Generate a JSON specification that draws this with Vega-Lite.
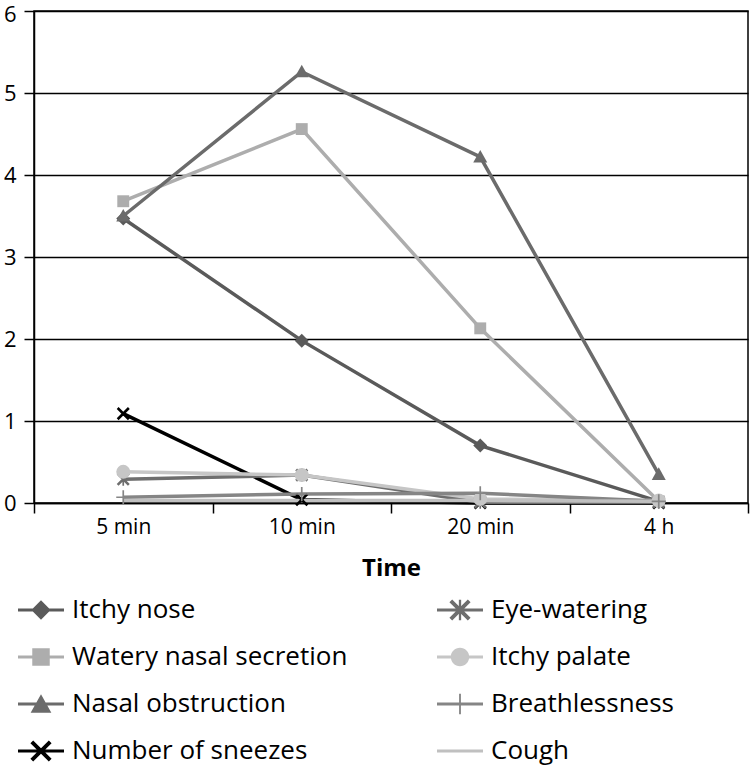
{
  "$schema": "https://vega.github.io/schema/vega-lite/v6.json",
  "width": 714,
  "height": 492,
  "autosize": "none",
  "padding": {"left": 34, "top": 11, "right": 2, "bottom": 267},
  "background": "white",
  "config": {
    "font": "Open Sans",
    "view": {"stroke": "black", "strokeWidth": 1.5},
    "axis": {"labelFont": "Open Sans", "titleFont": "Open Sans", "labelColor": "black", "titleColor": "black", "domainColor": "black", "tickColor": "black", "gridColor": "black"}
  },
  "data": {
    "values": [
      {"symptom": "Itchy nose", "time": "5 min", "value": 3.47},
      {"symptom": "Itchy nose", "time": "10 min", "value": 1.98},
      {"symptom": "Itchy nose", "time": "20 min", "value": 0.7},
      {"symptom": "Itchy nose", "time": "4 h", "value": 0.02},
      {"symptom": "Watery nasal secretion", "time": "5 min", "value": 3.68},
      {"symptom": "Watery nasal secretion", "time": "10 min", "value": 4.56},
      {"symptom": "Watery nasal secretion", "time": "20 min", "value": 2.13},
      {"symptom": "Watery nasal secretion", "time": "4 h", "value": 0.02},
      {"symptom": "Nasal obstruction", "time": "5 min", "value": 3.5},
      {"symptom": "Nasal obstruction", "time": "10 min", "value": 5.26},
      {"symptom": "Nasal obstruction", "time": "20 min", "value": 4.22},
      {"symptom": "Nasal obstruction", "time": "4 h", "value": 0.35},
      {"symptom": "Number of sneezes", "time": "5 min", "value": 1.09},
      {"symptom": "Number of sneezes", "time": "10 min", "value": 0.04},
      {"symptom": "Number of sneezes", "time": "20 min", "value": 0.0},
      {"symptom": "Number of sneezes", "time": "4 h", "value": 0.0},
      {"symptom": "Eye-watering", "time": "5 min", "value": 0.29},
      {"symptom": "Eye-watering", "time": "10 min", "value": 0.34},
      {"symptom": "Eye-watering", "time": "20 min", "value": 0.01},
      {"symptom": "Eye-watering", "time": "4 h", "value": 0.01},
      {"symptom": "Itchy palate", "time": "5 min", "value": 0.38},
      {"symptom": "Itchy palate", "time": "10 min", "value": 0.34},
      {"symptom": "Itchy palate", "time": "20 min", "value": 0.05},
      {"symptom": "Itchy palate", "time": "4 h", "value": 0.03},
      {"symptom": "Breathlessness", "time": "5 min", "value": 0.07},
      {"symptom": "Breathlessness", "time": "10 min", "value": 0.11},
      {"symptom": "Breathlessness", "time": "20 min", "value": 0.12},
      {"symptom": "Breathlessness", "time": "4 h", "value": 0.02},
      {"symptom": "Cough", "time": "5 min", "value": 0.03},
      {"symptom": "Cough", "time": "10 min", "value": 0.03},
      {"symptom": "Cough", "time": "20 min", "value": 0.03},
      {"symptom": "Cough", "time": "4 h", "value": 0.02}
    ]
  },
  "encoding": {
    "x": {
      "field": "time", "type": "nominal",
      "sort": ["5 min", "10 min", "20 min", "4 h"],
      "scale": {"paddingInner": 0, "paddingOuter": 0},
      "axis": {"title": "Time", "titleFontSize": 24, "titleFontWeight": "bold", "titlePadding": 19, "labelFontSize": 21, "labelAngle": 0, "labelPadding": 3, "tickBand": "extent", "tickSize": 10, "tickWidth": 1.5, "domainWidth": 1.5, "labelColor": "black"}
    },
    "y": {
      "field": "value", "type": "quantitative",
      "scale": {"domain": [0, 6], "nice": false},
      "axis": {"title": null, "values": [0, 1, 2, 3, 4, 5, 6], "labelFontSize": 22, "labelOffset": {"condition": {"test": "datum.value == 6", "value": 3}, "value": 0}, "tickSize": 10, "tickWidth": 1.5, "labelPadding": 8, "grid": true, "gridWidth": 1.5, "domainWidth": 1.5}
    }
  },
  "layer": [
    {
      "mark": {"type": "line", "strokeWidth": 3.5},
      "encoding": {
        "order": {"value": null},
        "color": {
          "field": "symptom", "type": "nominal", "legend": null,
          "scale": {
            "domain": ["Itchy nose", "Watery nasal secretion", "Nasal obstruction", "Number of sneezes", "Eye-watering", "Itchy palate", "Breathlessness", "Cough"],
            "range": ["#5a5a5a", "#adadad", "#6b6b6b", "#000000", "#6e6e6e", "#c6c6c6", "#858585", "#c0c0c0"]
          }
        }
      }
    },
    {
      "mark": {"type": "point", "filled": true, "size": 196, "opacity": 1},
      "encoding": {
        "color": {
          "field": "symptom", "type": "nominal", "legend": null,
          "scale": {
            "domain": ["Itchy nose", "Watery nasal secretion", "Nasal obstruction", "Number of sneezes", "Eye-watering", "Itchy palate", "Breathlessness", "Cough"],
            "range": ["#5a5a5a", "#adadad", "#6b6b6b", "#000000", "#6e6e6e", "#c6c6c6", "#858585", "#c0c0c0"]
          }
        },
        "shape": {
          "field": "symptom", "type": "nominal", "legend": null,
          "scale": {
            "domain": ["Itchy nose", "Watery nasal secretion", "Nasal obstruction", "Number of sneezes", "Eye-watering", "Itchy palate", "Breathlessness", "Cough"],
            "range": [
              "diamond",
              "M-0.85,-0.85H0.85V0.85H-0.85Z",
              "M0,-1L1,0.8H-1Z",
              "M-0.93,-0.67L-0.67,-0.93L0.93,0.67L0.67,0.93Z M-0.93,0.67L0.67,-0.93L0.93,-0.67L-0.67,0.93Z",
              "M-0.93,-0.67L-0.67,-0.93L0.93,0.67L0.67,0.93Z M-0.93,0.67L0.67,-0.93L0.93,-0.67L-0.67,0.93Z M-0.12,-0.95H0.12V0.95H-0.12Z",
              "circle",
              "M-0.12,-1H0.12V1H-0.12Z M-1,-0.12H1V0.12H-1Z",
              "M0,0Z"
            ]
          }
        }
      }
    },
    {
      "transform": [{"filter": "false"}],
      "mark": {"type": "point", "filled": true, "opacity": 1},
      "encoding": {
        "color": {
          "field": "symptom", "type": "nominal",
          "scale": {
            "domain": ["Itchy nose", "Watery nasal secretion", "Nasal obstruction", "Number of sneezes", "Eye-watering", "Itchy palate", "Breathlessness", "Cough"],
            "range": ["#5a5a5a", "#adadad", "#6b6b6b", "#000000", "#6e6e6e", "#c6c6c6", "#858585", "#c0c0c0"]
          },
          "legend": {
            "title": null, "orient": "none", "legendX": -16, "legendY": 576,
            "columns": 2, "columnPadding": 89, "rowPadding": 11,
            "symbolSize": 2116, "symbolStrokeWidth": 0, "symbolOpacity": 1,
            "labelFontSize": 26, "labelFont": "Open Sans", "labelColor": "black", "labelOffset": 8, "labelLimit": 400, "padding": 0
          }
        },
        "shape": {
          "field": "symptom", "type": "nominal",
          "scale": {
            "domain": ["Itchy nose", "Watery nasal secretion", "Nasal obstruction", "Number of sneezes", "Eye-watering", "Itchy palate", "Breathlessness", "Cough"],
            "range": [
              "M-1,-0.07H1V0.07H-1Z M0,-0.42L0.42,0L0,0.42L-0.42,0Z",
              "M-1,-0.07H1V0.07H-1Z M-0.38,-0.38H0.38V0.38H-0.38Z",
              "M-1,-0.07H1V0.07H-1Z M0,-0.42L0.45,0.38H-0.45Z",
              "M-1,-0.07H1V0.07H-1Z M-0.46,-0.34L-0.34,-0.46L0.46,0.34L0.34,0.46Z M-0.46,0.34L0.34,-0.46L0.46,-0.34L-0.34,0.46Z",
              "M-1,-0.07H1V0.07H-1Z M-0.46,-0.34L-0.34,-0.46L0.46,0.34L0.34,0.46Z M-0.46,0.34L0.34,-0.46L0.46,-0.34L-0.34,0.46Z M-0.05,-0.45H0.05V0.45H-0.05Z",
              "M-1,-0.07H1V0.07H-1Z M-0.4,0A0.4,0.4 0 1,1 0.4,0A0.4,0.4 0 1,1 -0.4,0Z",
              "M-1,-0.07H1V0.07H-1Z M-0.04,-0.45H0.04V0.45H-0.04Z",
              "M-1,-0.07H1V0.07H-1Z"
            ]
          },
          "legend": {
            "title": null, "orient": "none", "legendX": -16, "legendY": 576,
            "columns": 2, "columnPadding": 89, "rowPadding": 11,
            "symbolSize": 2116, "symbolStrokeWidth": 0, "symbolOpacity": 1,
            "labelFontSize": 26, "labelFont": "Open Sans", "labelColor": "black", "labelOffset": 8, "labelLimit": 400, "padding": 0
          }
        }
      }
    }
  ],
  "resolve": {
    "scale": {"color": "independent", "shape": "independent"},
    "legend": {"color": "independent", "shape": "independent"}
  }
}
